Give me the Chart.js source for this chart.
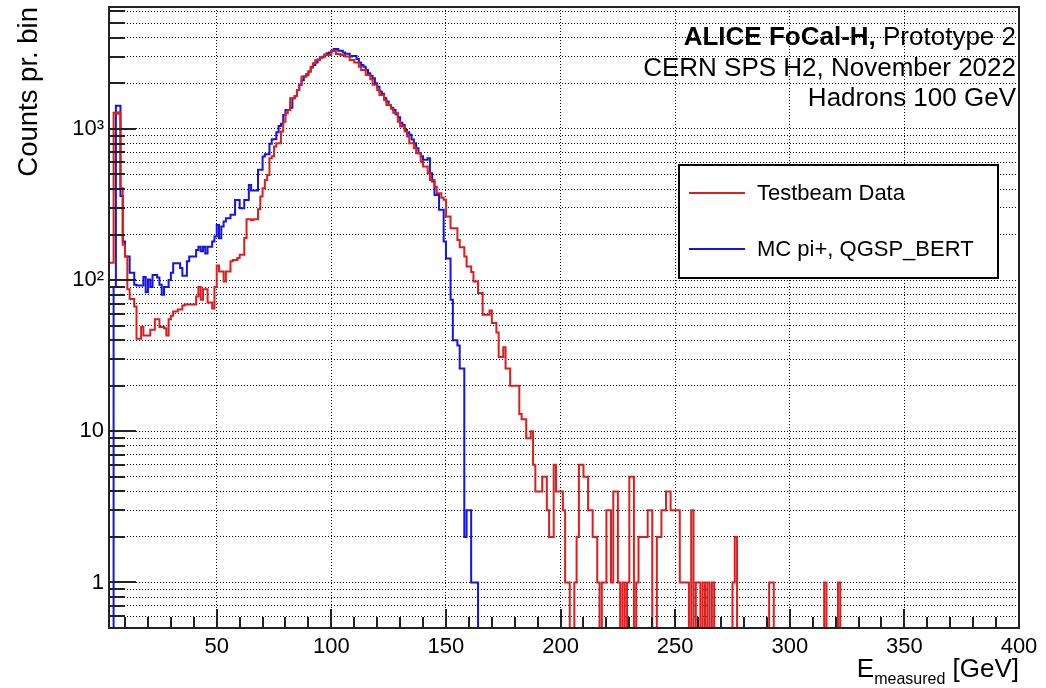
<!DOCTYPE html>
<html>
<head>
<meta charset="utf-8">
<title>FoCal-H hadron response</title>
<script src="https://cdn.jsdelivr.net/npm/chart.js@4.4.0/dist/chart.umd.min.js"></script>
<style>
  html, body { margin: 0; padding: 0; background: #fff; }
  canvas { display: block; }
</style>
</head>
<body>
<canvas id="energyHist" width="1046" height="688"></canvas>
<script>
// 1 GeV bins, first bin edge at 0 GeV (bins below the axis start are null)
const binWidth = 1;

const testbeamCounts = [
  null, null, null, 130, 130, 1280, 1260, 1290, 405, 171,
  143, 87, 75, 75, 67, 41, 41, 49, 43, 43,
  43, 47, 47, 55, 55, 49, 49, 48, 43, 55,
  58, 62, 62, 64, 64, 68, 69, 69, 69, 69,
  69, 78, 90, 74, 87, 87, 71, 71, 65, 90,
  125, 114, 114, 98, 114, 114, 133, 136, 136, 140,
  147, 147, 190, 253, 253, 250, 253, 253, 294, 357,
  405, 460, 496, 640, 660, 764, 804, 804, 960, 1117,
  1270, 1335, 1596, 1596, 1650, 1810, 1955, 2220, 2220, 2260,
  2395, 2580, 2720, 2860, 2860, 2980, 2980, 3080, 3080, 3080,
  3290, 3290, 3130, 3130, 3080, 3080, 3010, 3010, 2860, 2860,
  2750, 2750, 2580, 2450, 2450, 2275, 2275, 2130, 1955, 1955,
  1810, 1677, 1677, 1555, 1440, 1440, 1360, 1280, 1280, 1117,
  1036, 1036, 960, 890, 804, 804, 745, 690, 690, 608,
  563, 563, 509, 460, 460, 415, 375, 375, 350, 340,
  263, 263, 220, 220, 220, 184, 165, 165, 143, 123,
  123, 113, 98, 98, 82, 82, 59, 59, 59, 63,
  52, 52, 45, 31, 31, 36, 26, 26, 20, 20,
  20, 20, 13, 12, 12, 9, 9, 10, 6, 4,
  4, 4, 5, 5, 3, 2, 2, 6, 4, 4,
  4, 3, 1, 1, 0, 0, 1, 2, 6, 6,
  5, 5, 3, 3, 2, 2, 1, 0, 1, 1,
  3, 3, 1, 4, 4, 1, 0, 1, 0, 1,
  5, 5, 0, 1, 2, 2, 2, 2, 3, 3,
  0, 0, 2, 2, 3, 3, 4, 4, 3, 3,
  3, 3, 1, 1, 1, 1, 0, 3, 0, 1,
  1, 0, 1, 0, 1, 0, 1, 0, 0, 0,
  0, 0, 0, 0, 0, 1, 2, 0, 0, 0,
  0, 0, 0, 0, 0, 0, 0, 0, 0, 0,
  0, 1, 1, 0, 0, 0, 0, 0, 0, 0,
  0, 0, 0, 0, 0, 0, 0, 0, 0, 0,
  0, 0, 0, 0, 0, 1, 0, 0, 0, 0,
  0, 1, 0, 0, 0, 0, 0, 0, 0, 0,
  0, 0, 0, 0, 0, 0, 0, 0, 0, 0,
  0, 0, 0, 0, 0, 0, 0, 0, 0, 0,
  0, 0, 0, 0, 0, 0, 0, 0, 0, 0,
  0, 0, 0, 0, 0, 0, 0, 0, 0, 0,
  0, 0, 0, 0, 0, 0, 0, 0, 0, 0,
  0, 0, 0, 0, 0, 0, 0, 0, 0, 0,
  0, 0, 0, 0, 0, 0, 0, 0, 0, 0
];

const mcCounts = [
  null, null, null, 0, 0, 90, 1420, 1420, 360, 180,
  143, 143, 112, 112, 93, 92, 92, 92, 105, 83,
  101, 90, 108, 108, 104, 93, 80, 90, 90, 100,
  112, 129, 129, 129, 120, 107, 107, 133, 143, 143,
  143, 158, 166, 155, 166, 150, 166, 166, 180, 194,
  231, 189, 226, 244, 256, 256, 270, 270, 339, 339,
  299, 299, 339, 339, 426, 391, 391, 391, 536, 536,
  656, 680, 680, 796, 855, 855, 950, 1047, 1080, 1237,
  1335, 1335, 1380, 1596, 1650, 1810, 1955, 2100, 2220, 2300,
  2395, 2550, 2650, 2750, 2880, 2950, 3000, 3100, 3170, 3200,
  3290, 3370, 3370, 3290, 3290, 3200, 3140, 3140, 3010, 3040,
  3040, 2900, 2750, 2650, 2580, 2450, 2330, 2250, 2165, 2005,
  1900, 1765, 1705, 1595, 1516, 1440, 1380, 1335, 1250, 1195,
  1100, 1063, 985, 950, 913, 850, 804, 745, 690, 660,
  624, 624, 640, 509, 448, 366, 366, 292, 292, 180,
  139, 139, 74, 40, 40, 37, 26, 26, 2, 3,
  3, 1, 1, 1, 0
];

const xTickValues = [10, 20, 30, 40, 50, 60, 70, 80, 90, 100, 110, 120, 130, 140, 150,
  160, 170, 180, 190, 200, 210, 220, 230, 240, 250, 260, 270, 280, 290, 300,
  310, 320, 330, 340, 350, 360, 370, 380, 390, 400];
const yTickValues = [0.6, 0.7, 0.8, 0.9, 1, 2, 3, 4, 5, 6, 7, 8, 9,
  10, 20, 30, 40, 50, 60, 70, 80, 90, 100, 200, 300, 400, 500, 600, 700, 800, 900,
  1000, 2000, 3000, 4000, 5000, 6000];
const yTickLabels = { 1: '1', 10: '10', 100: '10\u00b2', 1000: '10\u00b3' };

const xMin = 3, xMax = 400;
const yMin = 0.5, yMax = 6400;

const FONT = "'Liberation Sans', Arial, Helvetica, sans-serif";
const RED = '#dc1e1e';
const BLUE = '#1414e6';

// histogram -> step points at bin low edges, plus closing edge
// empty bins sit on the axis floor, the way ROOT draws them on a log pad
function toSteps(counts) {
  const pts = counts.map((c, i) => ({
    x: i * binWidth,
    y: c === null ? null : (c > 0 ? c : yMin)
  }));
  const last = counts[counts.length - 1];
  pts.push({ x: counts.length * binWidth, y: last > 0 ? last : yMin });
  return pts;
}

const rootDecor = {
  id: 'rootDecor',
  afterDraw(chart) {
    const ctx = chart.ctx;
    const a = chart.chartArea;
    const xs = chart.scales.x;
    const ys = chart.scales.y;
    ctx.save();

    // inward tick marks
    ctx.strokeStyle = '#222';
    ctx.lineWidth = 2;
    ctx.beginPath();
    xTickValues.forEach(v => {
      const px = Math.round(xs.getPixelForValue(v));
      const len = v % 50 === 0 ? 19 : 11;
      ctx.moveTo(px, a.bottom);
      ctx.lineTo(px, a.bottom - len);
    });
    yTickValues.forEach(v => {
      const py = Math.round(ys.getPixelForValue(v));
      const len = yTickLabels[v] ? 27 : 16;
      ctx.moveTo(a.left, py);
      ctx.lineTo(a.left + len, py);
    });
    ctx.stroke();

    // frame
    ctx.strokeRect(a.left, a.top, a.right - a.left, a.bottom - a.top);

    // x axis title with subscript
    ctx.fillStyle = '#000';
    ctx.textBaseline = 'alphabetic';
    ctx.textAlign = 'left';
    const big = '26px ' + FONT;
    const small = '16px ' + FONT;
    ctx.font = big;
    const wE = ctx.measureText('E').width;
    const wUnit = ctx.measureText(' [GeV]').width;
    ctx.font = small;
    const wSub = ctx.measureText('measured').width;
    let tx = a.right - (wE + wSub + wUnit);
    ctx.font = big;
    ctx.fillText('E', tx, 677);
    ctx.font = small;
    ctx.fillText('measured', tx + wE, 684);
    ctx.font = big;
    ctx.fillText(' [GeV]', tx + wE + wSub, 677);

    // header text, right aligned
    ctx.textAlign = 'right';
    const rx = 1016;
    ctx.font = big;
    const rest = ' Prototype 2';
    const wRest = ctx.measureText(rest).width;
    ctx.fillText(rest, rx, 45);
    ctx.font = 'bold 26px ' + FONT;
    ctx.fillText('ALICE FoCal-H,', rx - wRest, 45);
    ctx.font = big;
    ctx.fillText('CERN SPS H2, November 2022', rx, 76);
    ctx.fillText('Hadrons 100 GeV', rx, 106);

    // legend box
    const lx = 679, ly = 165, lw = 319, lh = 113;
    ctx.fillStyle = '#fff';
    ctx.fillRect(lx, ly, lw, lh);
    ctx.strokeStyle = '#000';
    ctx.lineWidth = 2;
    ctx.strokeRect(lx, ly, lw, lh);
    const entries = [
      { label: 'Testbeam Data', color: RED, y: 193 },
      { label: 'MC pi+, QGSP_BERT', color: BLUE, y: 249 }
    ];
    ctx.textAlign = 'left';
    ctx.textBaseline = 'middle';
    ctx.font = '22px ' + FONT;
    entries.forEach(e => {
      ctx.strokeStyle = e.color;
      ctx.lineWidth = 2;
      ctx.beginPath();
      ctx.moveTo(689, e.y);
      ctx.lineTo(745, e.y);
      ctx.stroke();
      ctx.fillStyle = '#000';
      ctx.fillText(e.label, 757, e.y + 1);
    });
    ctx.restore();
  }
};

const ctx = document.getElementById('energyHist').getContext('2d');
new Chart(ctx, {
  type: 'line',
  data: {
    datasets: [
      {
        label: 'Testbeam Data',
        data: toSteps(testbeamCounts),
        borderColor: RED,
        borderWidth: 2,
        stepped: true,
        pointRadius: 0,
        fill: false
      },
      {
        label: 'MC pi+, QGSP_BERT',
        data: toSteps(mcCounts),
        borderColor: BLUE,
        borderWidth: 2,
        stepped: true,
        pointRadius: 0,
        fill: false
      }
    ]
  },
  options: {
    responsive: false,
    devicePixelRatio: 1,
    animation: false,
    layout: { padding: { left: 0, top: 7, right: 27, bottom: 0 } },
    plugins: { legend: { display: false }, tooltip: { enabled: false } },
    scales: {
      x: {
        type: 'linear',
        min: xMin,
        max: xMax,
        afterBuildTicks: s => { s.ticks = xTickValues.map(v => ({ value: v })); },
        afterFit: s => { s.height = 60; s.paddingLeft = 0; s.paddingRight = 0; },
        ticks: {
          autoSkip: false,
          maxRotation: 0,
          padding: 6,
          color: '#000',
          font: { family: FONT, size: 22 },
          callback: v => (v % 50 === 0 ? String(v) : '')
        },
        grid: {
          drawTicks: false,
          color: '#000',
          lineWidth: c => (c.tick && c.tick.value % 50 === 0 ? 1 : 0)
        },
        border: { display: false, dash: [1, 2] }
      },
      y: {
        type: 'logarithmic',
        min: yMin,
        max: yMax,
        afterBuildTicks: s => { s.ticks = yTickValues.map(v => ({ value: v })); },
        afterFit: s => { s.width = 109; s.paddingTop = 0; s.paddingBottom = 0; },
        ticks: {
          autoSkip: false,
          padding: 5,
          color: '#000',
          font: { family: FONT, size: 22 },
          callback: v => yTickLabels[v] || ''
        },
        grid: { drawTicks: false, color: '#000', lineWidth: 1 },
        border: { display: false, dash: [1, 2] },
        title: {
          display: true,
          text: 'Counts pr. bin',
          align: 'end',
          color: '#000',
          font: { family: FONT, size: 27.5 },
          padding: { top: 13, bottom: 0 }
        }
      }
    }
  },
  plugins: [rootDecor]
});
</script>
</body>
</html>
